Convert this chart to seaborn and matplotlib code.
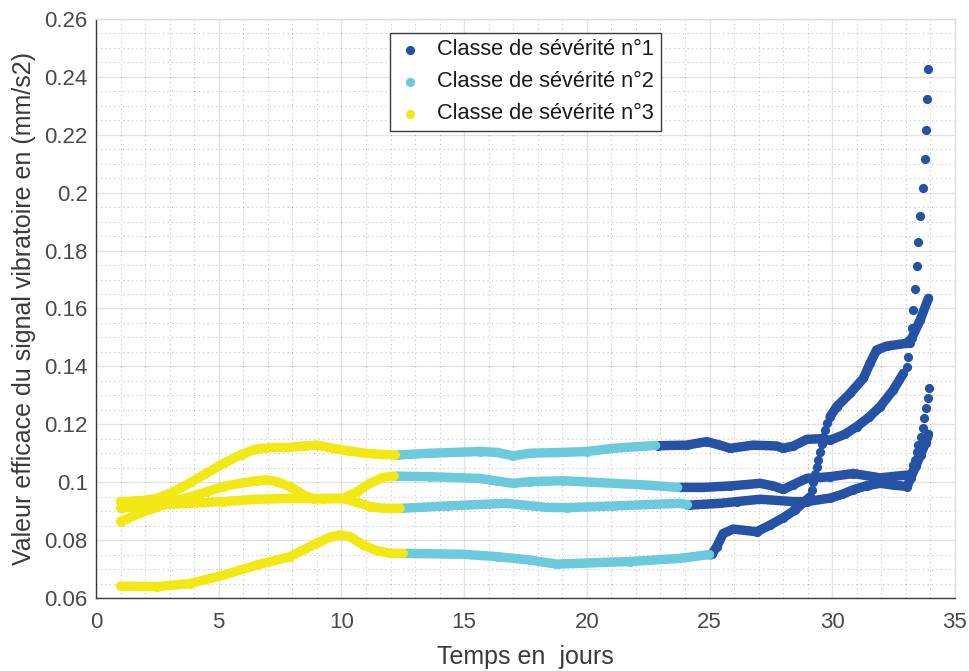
import numpy as np
import pandas as pd
import matplotlib
matplotlib.use('Agg')
import matplotlib.pyplot as plt
from matplotlib.ticker import MultipleLocator, FuncFormatter
import seaborn as sns

# temps (jours), valeur efficace (mm/s2) et classe de severite pour 4 enregistrements
# courbe A (haut)
a_t = [1.0, 1.8, 2.5, 3.15, 3.8, 4.5, 5.2, 5.9, 6.55, 7.2, 7.9, 8.5, 9.0, 9.6, 10.3, 11.0, 11.6, 12.2,
       12.3, 13.6, 15.65, 16.33, 17.0, 17.68, 19.04, 20.0, 21.08, 22.8,
       22.9, 24.07, 24.88, 25.43, 25.84, 26.78, 27.74, 28.0, 28.42, 28.96, 29.5, 29.91, 30.5,
       31.0, 31.5, 31.95, 32.49, 32.9]
a_v = [0.0933, 0.0936, 0.0944, 0.0967, 0.0996, 0.1031, 0.1065, 0.1095, 0.1115, 0.1120, 0.1120,
       0.1125, 0.1128, 0.1118, 0.1108, 0.1100, 0.1096, 0.1094,
       0.1094, 0.1100, 0.1106, 0.1103, 0.1091, 0.1100, 0.1103, 0.1106, 0.1117, 0.1127,
       0.1126, 0.1128, 0.1140, 0.1128, 0.1117, 0.1128, 0.1125, 0.1117, 0.1125, 0.1148, 0.1150,
       0.1145, 0.1165, 0.1192, 0.1225, 0.1261, 0.1319, 0.1376]
a_c = [3] * 18 + [2] * 10 + [1] * 18
a_dots_t = [33.03, 33.07, 33.17, 33.24, 33.31, 33.37, 33.44, 33.51, 33.58, 33.71, 33.78, 33.82, 33.85, 33.92]
a_dots_v = [0.1397, 0.1432, 0.1480, 0.1532, 0.1595, 0.1668, 0.1747, 0.1831, 0.1921, 0.2015,
            0.2115, 0.2218, 0.2322, 0.2427]

# courbe B
b_t = [1.0, 1.79, 2.47, 3.15, 3.83, 4.51, 5.19, 5.87, 6.55, 6.96, 7.36, 7.91, 8.45, 8.86, 9.26,
       10.08, 10.62, 11.16, 11.71, 12.15,
       12.25, 13.61, 15.65, 16.33, 17.0, 17.68, 19.04, 21.08, 22.44, 23.7,
       23.8, 24.75, 25.84, 27.06, 27.6, 28.01, 28.42, 28.96, 29.91, 30.86, 31.95, 32.5, 33.1]
b_v = [0.0864, 0.0893, 0.0913, 0.0933, 0.0950, 0.0967, 0.0985, 0.0996, 0.1005, 0.1008, 0.1002,
       0.0985, 0.0956, 0.0942, 0.0942, 0.0944, 0.0967, 0.0996, 0.1017, 0.1021,
       0.1021, 0.1019, 0.1013, 0.1004, 0.0996, 0.1002, 0.1005, 0.0996, 0.0990, 0.0982,
       0.0982, 0.0982, 0.0987, 0.0996, 0.0987, 0.0975, 0.0992, 0.1013, 0.1019, 0.1030, 0.1015,
       0.1020, 0.1025]
b_c = [3] * 20 + [2] * 10 + [1] * 13
b_dots_t = [33.25, 33.31, 33.37, 33.44, 33.51, 33.62, 33.68, 33.75, 33.82, 33.89, 33.94]
b_dots_v = [0.1040, 0.1058, 0.1076, 0.1103, 0.1128, 0.1157, 0.1188, 0.1223, 0.1255, 0.1290, 0.1327]

# courbe C
c_t = [1.0, 1.79, 2.47, 3.83, 5.19, 6.55, 7.91, 9.26, 10.08, 10.62, 11.16, 11.71, 12.39,
       12.49, 14.29, 16.73, 18.36, 19.18, 21.08, 23.8, 24.1,
       24.2, 25.43, 26.11, 27.06, 28.42, 28.96, 29.91, 30.4, 30.86, 31.4, 31.95, 32.5, 33.05,
       33.2, 33.4, 33.6, 33.8, 33.92]
c_v = [0.0910, 0.0918, 0.0921, 0.0927, 0.0933, 0.0941, 0.0944, 0.0944, 0.0944, 0.0930, 0.0916,
       0.0910, 0.0910,
       0.0910, 0.0918, 0.0927, 0.0913, 0.0912, 0.0918, 0.0927, 0.0922,
       0.0921, 0.0927, 0.0933, 0.0941, 0.0933, 0.0933, 0.0945, 0.0958, 0.0974, 0.0988, 0.0996,
       0.0990, 0.0985, 0.1015, 0.1055, 0.1095, 0.1135, 0.1165]
c_c = [3] * 13 + [2] * 8 + [1] * 18
c_dots_t = []
c_dots_v = []

# courbe D (bas)
d_t = [1.0, 2.47, 3.83, 5.19, 6.55, 7.91, 8.45, 8.99, 9.53, 9.94, 10.35, 10.89, 11.43, 11.98, 12.52,
       12.62, 14.97, 16.33, 17.68, 18.77, 19.72, 21.76, 23.8, 25.0,
       25.1, 25.29, 25.56, 25.97, 26.92, 27.47, 28.0, 28.5, 28.9, 29.1,
       29.91, 30.18, 30.73, 31.27, 31.54, 31.81, 32.22, 33.03, 33.24, 33.58, 33.92]
d_v = [0.0641, 0.0639, 0.0650, 0.0679, 0.0714, 0.0743, 0.0766, 0.0789, 0.0810, 0.0818, 0.0812,
       0.0783, 0.0764, 0.0755, 0.0754,
       0.0754, 0.0751, 0.0743, 0.0731, 0.0717, 0.0720, 0.0726, 0.0737, 0.0750,
       0.0752, 0.0777, 0.0823, 0.0838, 0.0829, 0.0852, 0.0877, 0.0905, 0.0935, 0.0950,
       0.1226, 0.1261, 0.1307, 0.1359, 0.1411, 0.1457, 0.1470, 0.1480, 0.1497, 0.1560, 0.1635]
d_c = [3] * 15 + [2] * 9 + [1] * 21
d_dots_t = [29.16, 29.23, 29.3, 29.36, 29.43, 29.5, 29.57, 29.63, 29.7, 29.77]
d_dots_v = [0.0973, 0.1002, 0.1030, 0.1053, 0.1076, 0.1105, 0.1131, 0.1157, 0.1180, 0.1203]

noms = {1: 'Classe de sévérité n°1', 2: 'Classe de sévérité n°2', 3: 'Classe de sévérité n°3'}
couleurs = {1: '#2552A5', 2: '#6BCBDC', 3: '#F2E813'}


def build(name, t, v, c, dt, dv):
    dense = pd.DataFrame({'t': t, 'v': v, 'cls': c, 'sparse': False})
    dots = pd.DataFrame({'t': dt, 'v': dv, 'cls': [1] * len(dt), 'sparse': True})
    df = pd.concat([dense, dots]).sort_values('t').reset_index(drop=True)
    brk = df['sparse'] | (df['cls'] != df['cls'].shift())
    df['run'] = name + brk.cumsum().astype(str)
    return df


data = pd.concat([
    build('A', a_t, a_v, a_c, a_dots_t, a_dots_v),
    build('B', b_t, b_v, b_c, b_dots_t, b_dots_v),
    build('C', c_t, c_v, c_c, c_dots_t, c_dots_v),
    build('D', d_t, d_v, d_c, d_dots_t, d_dots_v),
], ignore_index=True)

sns.set_style('white')
plt.rcParams['font.family'] = ['Liberation Sans', 'DejaVu Sans']

fig = plt.figure(figsize=(9.7, 6.71), dpi=100)
ax = fig.add_axes([0.099, 0.1088, 0.8855, 0.8629])

for k in [1, 2, 3]:
    sub = data[data['cls'] == k]
    lines = sub[~sub['sparse']]
    sns.lineplot(data=lines, x='t', y='v', units='run', estimator=None, sort=False,
                 color=couleurs[k], lw=6.8, solid_capstyle='round', solid_joinstyle='round',
                 legend=False, ax=ax)
    sns.scatterplot(data=sub, x='t', y='v', color=couleurs[k], s=44, linewidth=0,
                    label=noms[k], ax=ax)

ax.set_xlim(0, 35)
ax.set_ylim(0.06, 0.26)
ax.xaxis.set_major_locator(MultipleLocator(5))
ax.xaxis.set_minor_locator(MultipleLocator(1))
ax.yaxis.set_major_locator(MultipleLocator(0.02))
ax.yaxis.set_minor_locator(MultipleLocator(0.005))
ax.yaxis.set_major_formatter(FuncFormatter(lambda y, p: f'{y:g}'))

ax.grid(True, which='major', color='#262626', alpha=0.12, lw=1.0)
ax.grid(True, which='minor', color='#262626', alpha=0.28, lw=0.8, ls=(0, (1, 3)))
ax.set_axisbelow(True)

for s in ['left', 'bottom']:
    ax.spines[s].set_color('#3a3a3a')
    ax.spines[s].set_linewidth(1.0)
for s in ['top', 'right']:
    ax.spines[s].set_color('#dedede')
    ax.spines[s].set_linewidth(1.0)

ax.tick_params(which='major', direction='in', length=4, width=1, color='#3a3a3a',
               labelsize=16, labelcolor='#4a4a4a', pad=6)
ax.tick_params(axis='x', pad=10)
ax.tick_params(which='minor', length=0)

ax.set_xlabel('Temps en  jours', fontsize=18, color='#3a3a3a', labelpad=9)
ax.set_ylabel('Valeur efficace du signal vibratoire en (mm/s2)', fontsize=18,
              color='#3a3a3a', labelpad=6)

leg = ax.legend(loc='upper left', bbox_to_anchor=(0.342, 0.976), borderaxespad=0, fontsize=15.7,
                frameon=True, fancybox=False, framealpha=1, edgecolor='#3a3a3a',
                handletextpad=0.62, labelspacing=0.5, borderpad=0.3, handlelength=1.25)
leg.get_frame().set_linewidth(1.0)
for txt in leg.get_texts():
    txt.set_color('#1a1a1a')

fig.savefig('out.png', dpi=100)
